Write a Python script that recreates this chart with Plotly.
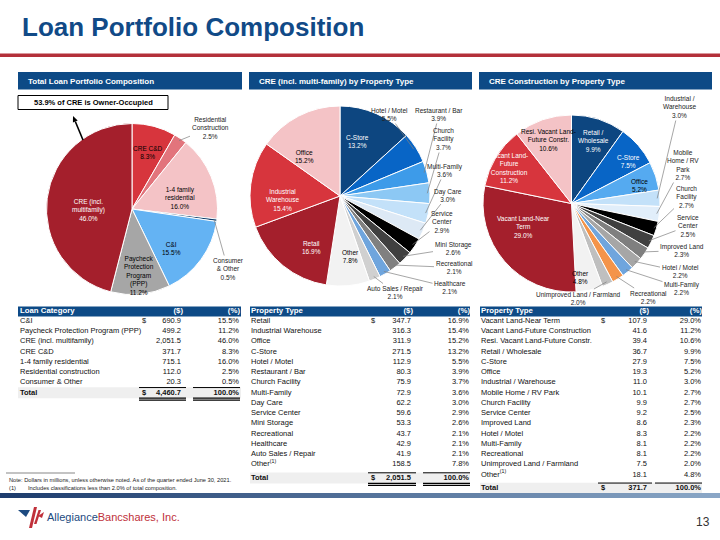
import math
import plotly.graph_objects as go

W, H = 720, 540

# ---------------- data ----------------
loan_categories = ["C&I", "Paycheck Protection Program (PPP)", "CRE (incl. multifamily)", "CRE C&D",
                   "1-4 family residential", "Residential construction", "Consumer & Other"]
loan_amounts = [690.9, 499.2, 2051.5, 371.7, 715.1, 112.0, 20.3]
loan_pcts = [15.5, 11.2, 46.0, 8.3, 16.0, 2.5, 0.5]
loan_total = 4460.7
loan_pie_labels = ["C&I", "Paycheck<br>Protection<br>Program<br>(PPP)", "CRE (incl.<br>multifamily)", "CRE C&D",
                   "1-4 family<br>residential", "Residential<br>Construction", "Consumer<br>& Other"]

cre_types = ["Retail", "Industrial Warehouse", "Office", "C-Store", "Hotel / Motel", "Restaurant / Bar",
             "Church Facility", "Multi-Family", "Day Care", "Service Center", "Mini Storage",
             "Recreational", "Healthcare", "Auto Sales / Repair", "Other<sup>(1)</sup>"]
cre_amounts = [347.7, 316.3, 311.9, 271.5, 112.9, 80.3, 75.9, 72.9, 62.2, 59.6, 53.3, 43.7, 42.9, 41.9, 158.5]
cre_pcts = [16.9, 15.4, 15.2, 13.2, 5.5, 3.9, 3.7, 3.6, 3.0, 2.9, 2.6, 2.1, 2.1, 2.1, 7.8]
cre_total = 2051.5
cre_pie_labels = ["Retail", "Industrial<br>Warehouse", "Office", "C-Store", "Hotel / Motel", "Restaurant / Bar",
                  "Church<br>Facility", "Multi-Family", "Day Care", "Service<br>Center", "Mini Storage",
                  "Recreational", "Healthcare", "Auto Sales / Repair", "Other"]

cons_types = ["Vacant Land-Near Term", "Vacant Land-Future Construction", "Resi. Vacant Land-Future Constr.",
              "Retail / Wholesale", "C-Store", "Office", "Industrial / Warehouse", "Mobile Home / RV Park",
              "Church Facility", "Service Center", "Improved Land", "Hotel / Motel", "Multi-Family",
              "Recreational", "Unimproved Land / Farmland", "Other<sup>(1)</sup>"]
cons_amounts = [107.9, 41.6, 39.4, 36.7, 27.9, 19.3, 11.0, 10.1, 9.9, 9.2, 8.6, 8.3, 8.1, 8.1, 7.5, 18.1]
cons_pcts = [29.0, 11.2, 10.6, 9.9, 7.5, 5.2, 3.0, 2.7, 2.7, 2.5, 2.3, 2.2, 2.2, 2.2, 2.0, 4.8]
cons_total = 371.7
cons_pie_labels = ["Vacant Land-Near<br>Term", "Vacant Land-<br>Future<br>Construction", "Resi. Vacant Land-<br>Future Constr.",
                   "Retail /<br>Wholesale", "C-Store", "Office", "Industrial /<br>Warehouse", "Mobile<br>Home / RV<br>Park",
                   "Church<br>Facility", "Service<br>Center", "Improved Land", "Hotel / Motel", "Multi-Family",
                   "Recreational", "Unimproved Land / Farmland", "Other"]

# slice order of each pie (clockwise from 12 o'clock), as indices into the lists above
loan_order = [3, 5, 4, 6, 0, 1, 2]
cre_order = list(range(3, 15)) + [0, 1, 2]
cons_order = list(range(3, 16)) + [0, 1, 2]

# ---------------- styles ----------------
FONT = "Liberation Sans, Arial, sans-serif"
NAVY = "#0d4a86"
TITLE_C = "#114a87"
PIE_FS = 6.5
TFS = 7.5

loan_colors = ["#64b3f3", "#a6a6a6", "#a41f2c", "#d7353d", "#f4c3c6", "#e2747c", "#0c3c6a"]
cre_colors = ["#a41f2c", "#d7353d", "#f4c3c6", "#0d4680", "#0865c6", "#3d9be9", "#8cc8f4", "#c3e1f9",
              "#dde9f5", "#000000", "#404040", "#808080", "#6fa5dd", "#d0d0d0", "#f2f2f2"]
cons_colors = ["#a41f2c", "#d7353d", "#f4c3c6", "#0d4680", "#0865c6", "#55aaf0", "#c3e1f9", "#e1eefa",
               "#000000", "#404040", "#7f7f7f", "#a6a6a6", "#6fa5dd", "#f4944a", "#bfbfbf", "#f2f2f2"]

# pie geometry in page pixels: centre x, centre y, radius
pie_geoms = [(132, 209, 85.5), (340, 196, 90), (571.5, 203.5, 88.5)]

# label placement (page pixels): index -> (x, y, text colour, outside?)
loan_lbl = {0: (171, 248.5, "#000", False), 1: (139, 275, "#000", False), 2: (88, 209.5, "#fff", False),
            3: (148, 152, "#000", False), 4: (180, 198, "#000", False), 5: (210, 128, "#222", True),
            6: (228, 269, "#222", True)}
cre_lbl = {0: (311, 247.5, "#fff", False), 1: (282, 199.5, "#fff", False), 2: (304, 156, "#000", False),
           3: (357, 141, "#fff", False), 4: (389, 114.5, "#222", True), 5: (439, 114.5, "#222", True),
           6: (443, 139, "#222", True), 7: (445, 170.5, "#222", True), 8: (448, 195, "#222", True),
           9: (442, 222, "#222", True), 10: (453, 248.5, "#222", True), 11: (454, 267.5, "#222", True),
           12: (450, 287.5, "#222", True), 13: (395, 292.5, "#222", True), 14: (350, 256.5, "#000", False)}
cons_lbl = {0: (523, 226.5, "#fff", False), 1: (509, 167.5, "#fff", False), 2: (548, 139.5, "#000", False),
            3: (593, 140.5, "#fff", False), 4: (628, 161, "#fff", False), 5: (639, 185, "#000", False),
            6: (679, 107, "#222", True), 7: (683, 165, "#222", True), 8: (686, 197, "#222", True),
            9: (688, 226, "#222", True), 10: (682, 250.5, "#222", True), 11: (680, 271.5, "#222", True),
            12: (682, 288, "#222", True), 13: (648, 297, "#222", True), 14: (578, 298, "#222", True),
            15: (580, 277, "#000", False)}

fig = go.Figure()
shapes = []
annotations = []


def dom(cx, cy, r):
    return dict(x=[(cx - r) / W, (cx + r) / W], y=[1 - (cy + r) / H, 1 - (cy - r) / H])


def add_pie(names, values, pcts, colors, order, geom, labels, lblspec):
    cx, cy, r = geom
    fig.add_trace(go.Pie(
        values=[values[i] for i in order],
        labels=[names[i] for i in order],
        marker=dict(colors=[colors[i] for i in order], line=dict(color="white", width=1)),
        sort=False, direction="clockwise", rotation=0, textinfo="none", hoverinfo="skip",
        domain=dom(cx, cy, r), showlegend=False))
    total = sum(values[i] for i in order)
    cum = 0.0
    for i in order:
        v = values[i]
        mid = (cum + v / 2) / total * 2 * math.pi
        cum += v
        lx, ly, col, outside = lblspec[i]
        txt = f"{labels[i]}<br>{pcts[i]:.1f}%"
        if outside:
            tx = cx + 0.97 * r * math.sin(mid)
            ty = cy - 0.97 * r * math.cos(mid)
            annotations.append(dict(x=tx, y=ty, xref="x", yref="y", ax=lx, ay=ly, axref="x", ayref="y",
                                    text=txt, showarrow=True, arrowhead=0, arrowwidth=0.7,
                                    arrowcolor="#808080", standoff=0,
                                    font=dict(family=FONT, size=PIE_FS, color=col), align="center"))
        else:
            annotations.append(dict(x=lx, y=ly, xref="x", yref="y", text=txt, showarrow=False,
                                    font=dict(family=FONT, size=PIE_FS, color=col), align="center"))


add_pie(loan_categories, loan_amounts, loan_pcts, loan_colors, loan_order, pie_geoms[0], loan_pie_labels, loan_lbl)
add_pie(cre_types, cre_amounts, cre_pcts, cre_colors, cre_order, pie_geoms[1], cre_pie_labels, cre_lbl)
add_pie(cons_types, cons_amounts, cons_pcts, cons_colors, cons_order, pie_geoms[2], cons_pie_labels, cons_lbl)

# ---------------- tables ----------------
tables = [
    dict(names=loan_categories, amounts=loan_amounts, pcts=loan_pcts, total=loan_total, head="Loan Category",
         left=18, right=241, name_x=20, dollar_x=142, val_x=181, pct_x=239),
    dict(names=cre_types, amounts=cre_amounts, pcts=cre_pcts, total=cre_total, head="Property Type",
         left=250, right=470, name_x=251, dollar_x=371, val_x=411, pct_x=469),
    dict(names=cons_types, amounts=cons_amounts, pcts=cons_pcts, total=cons_total, head="Property Type",
         left=480, right=702, name_x=481, dollar_x=601, val_x=647, pct_x=701),
]
ROW0, ROWH = 321, 10.25

for t in tables:
    n = len(t["names"])
    ys = [ROW0 + i * ROWH for i in range(n)]
    yt = ys[-1] + ROWH + (3.25 if "<sup>" in t["names"][-1] else 0)
    yh = ROW0 - 9.5
    allys = ys + [yt]
    shapes.append(dict(type="rect", xref="x", yref="y", x0=t["left"], x1=t["right"], y0=yh - 5, y1=yh + 5,
                       fillcolor=NAVY, line=dict(width=0), layer="below"))
    shapes.append(dict(type="rect", xref="x", yref="y", x0=t["left"], x1=t["right"], y0=yt - 5.5, y1=yt + 5.5,
                       fillcolor="#efefef", line=dict(width=0), layer="below"))
    for (a, b) in [(t["dollar_x"] - 3, t["val_x"] + 5), (t["pct_x"] - 46, t["pct_x"] + 1)]:
        shapes.append(dict(type="line", xref="x", yref="y", x0=a, x1=b, y0=yt - 5.2, y1=yt - 5.2,
                           line=dict(color="#000", width=1)))
        for dy in (5.3, 7.3):
            shapes.append(dict(type="line", xref="x", yref="y", x0=a, x1=b, y0=yt + dy, y1=yt + dy,
                               line=dict(color="#000", width=1.2)))
    common = dict(mode="text", hoverinfo="skip", showlegend=False, cliponaxis=False)
    fig.add_trace(go.Scatter(x=[t["name_x"]], y=[yh], text=[f"<b>{t['head']}</b>"], textposition="middle right",
                             textfont=dict(family=FONT, size=7.8, color="white"), **common))
    fig.add_trace(go.Scatter(x=[t["val_x"] + 2, t["pct_x"] + 1], y=[yh, yh], text=["<b>($)</b>", "<b>(%)</b>"],
                             textposition="middle left",
                             textfont=dict(family=FONT, size=7.8, color="white"), **common))
    fig.add_trace(go.Scatter(x=[t["name_x"]] * (n + 1), y=allys, text=t["names"] + ["<b>Total</b>"],
                             textposition="middle right", textfont=dict(family=FONT, size=TFS, color="#111"),
                             **common))
    fig.add_trace(go.Scatter(x=[t["dollar_x"]] * 2, y=[ys[0], yt], text=["$", "<b>$</b>"],
                             textposition="middle right", textfont=dict(family=FONT, size=TFS, color="#111"),
                             **common))
    fig.add_trace(go.Scatter(x=[t["val_x"]] * (n + 1), y=allys,
                             text=[f"{v:,.1f}" for v in t["amounts"]] + [f"<b>{t['total']:,.1f}</b>"],
                             textposition="middle left", textfont=dict(family=FONT, size=TFS, color="#111"),
                             **common))
    fig.add_trace(go.Scatter(x=[t["pct_x"]] * (n + 1), y=allys,
                             text=[f"{p:.1f}%" for p in t["pcts"]] + ["<b>100.0%</b>"],
                             textposition="middle left", textfont=dict(family=FONT, size=TFS, color="#111"),
                             **common))

# ---------------- slide furniture ----------------
annotations.append(dict(x=20, y=27, xref="x", yref="y", xanchor="left", yanchor="middle", showarrow=False,
                        text="<b>Loan Portfolio Composition</b>", font=dict(family=FONT, size=26, color=TITLE_C)))
shapes.append(dict(type="rect", xref="x", yref="y", x0=0, x1=W, y0=53.5, y1=57, fillcolor="#b3303a",
                   line=dict(width=0)))

sections = [(18, 242, "Total Loan Portfolio Composition"),
            (249, 472, "CRE (incl. multi-family) by Property Type"),
            (479, 712, "CRE Construction by Property Type")]
for x0, x1, txt in sections:
    shapes.append(dict(type="rect", xref="x", yref="y", x0=x0, x1=x1, y0=72, y1=89.5, fillcolor=NAVY,
                       line=dict(width=0), layer="below"))
    annotations.append(dict(x=x0 + 8, y=81, xref="x", yref="y", xanchor="left", yanchor="middle", showarrow=False,
                            text=f"<b>{txt}</b>", font=dict(family=FONT, size=8, color="white")))

# owner-occupied call-out with arrow
shapes.append(dict(type="rect", xref="x", yref="y", x0=18, x1=168, y0=95.5, y1=109.5, fillcolor="white",
                   line=dict(color="#000", width=1)))
annotations.append(dict(x=93, y=102.5, xref="x", yref="y", showarrow=False,
                        text="<b>53.9% of CRE is Owner-Occupied</b>", font=dict(family=FONT, size=7.5, color="#000")))
tail, tip = (83, 140), (73, 116)
dx, dy = tip[0] - tail[0], tip[1] - tail[1]
L = math.hypot(dx, dy)
ux, uy = dx / L, dy / L
bx, by = tip[0] - 6 * ux, tip[1] - 6 * uy
px_, py_ = -uy, ux
shapes.append(dict(type="line", xref="x", yref="y", x0=tail[0], y0=tail[1], x1=bx, y1=by,
                   line=dict(color="#000", width=1.6)))
shapes.append(dict(type="path", xref="x", yref="y",
                   path=f"M{tip[0]},{tip[1]} L{bx + 2.6 * px_},{by + 2.6 * py_} L{bx - 2.6 * px_},{by - 2.6 * py_} Z",
                   fillcolor="#000", line=dict(width=0)))

# footnotes
shapes.append(dict(type="line", xref="x", yref="y", x0=6, x1=75, y0=473, y1=473, line=dict(color="#555", width=0.7)))
annotations.append(dict(x=7, y=479.5, xref="x", yref="y", xanchor="left", showarrow=False,
                        text="Note: Dollars in millions, unless otherwise noted. As of the quarter ended June 30, 2021.",
                        font=dict(family=FONT, size=5.7, color="#222")))
annotations.append(dict(x=7, y=487.5, xref="x", yref="y", xanchor="left", showarrow=False,
                        text="(1)", font=dict(family=FONT, size=5.7, color="#222")))
annotations.append(dict(x=26, y=487.5, xref="x", yref="y", xanchor="left", showarrow=False,
                        text="Includes classifications less than 2.0% of total composition.",
                        font=dict(family=FONT, size=5.7, color="#222")))

# footer gradient bar
NSTEP = 36
c0, c1 = (0x1e, 0x3d, 0x6e), (0x8a, 0xa6, 0xc6)
for k in range(NSTEP):
    f = k / (NSTEP - 1)
    col = "#%02x%02x%02x" % tuple(int(a + (b - a) * f) for a, b in zip(c0, c1))
    shapes.append(dict(type="rect", xref="x", yref="y", x0=k * W / NSTEP, x1=(k + 1) * W / NSTEP + 0.5,
                       y0=493, y1=498, fillcolor=col, line=dict(width=0)))

# logo mark
shapes.append(dict(type="path", xref="x", yref="y", path="M18,510 L30,510 L26,517 Z", fillcolor="#1c4a80",
                   line=dict(width=0)))
shapes.append(dict(type="path", xref="x", yref="y", path="M29,528 L32,528 L37,507 L34,507 Z", fillcolor="#c0303a",
                   line=dict(width=0)))
shapes.append(dict(type="path", xref="x", yref="y", path="M34,524 L36.5,524 L41,510 L38.5,510 Z",
                   fillcolor="#c0303a", line=dict(width=0)))
shapes.append(dict(type="path", xref="x", yref="y", path="M38,516 L44,512 L42,518 Z", fillcolor="#c0303a",
                   line=dict(width=0)))
annotations.append(dict(x=45, y=517, xref="x", yref="y", xanchor="left", yanchor="middle", showarrow=False,
                        text="<span style='color:#1c4a80'>Allegiance</span><span style='color:#c0303a'>Bancshares, Inc.</span>",
                        font=dict(family=FONT, size=11)))
annotations.append(dict(x=712, y=522, xref="x", yref="y", xanchor="right", yanchor="middle", showarrow=False,
                        text="13", font=dict(family=FONT, size=12, color="#333")))

fig.update_layout(
    width=W, height=H, margin=dict(l=0, r=0, t=0, b=0),
    paper_bgcolor="white", plot_bgcolor="rgba(0,0,0,0)",
    xaxis=dict(range=[0, W], visible=False, domain=[0, 1], fixedrange=True),
    yaxis=dict(range=[H, 0], visible=False, domain=[0, 1], fixedrange=True),
    shapes=shapes, annotations=annotations, showlegend=False,
)

fig.write_html("out.html")
